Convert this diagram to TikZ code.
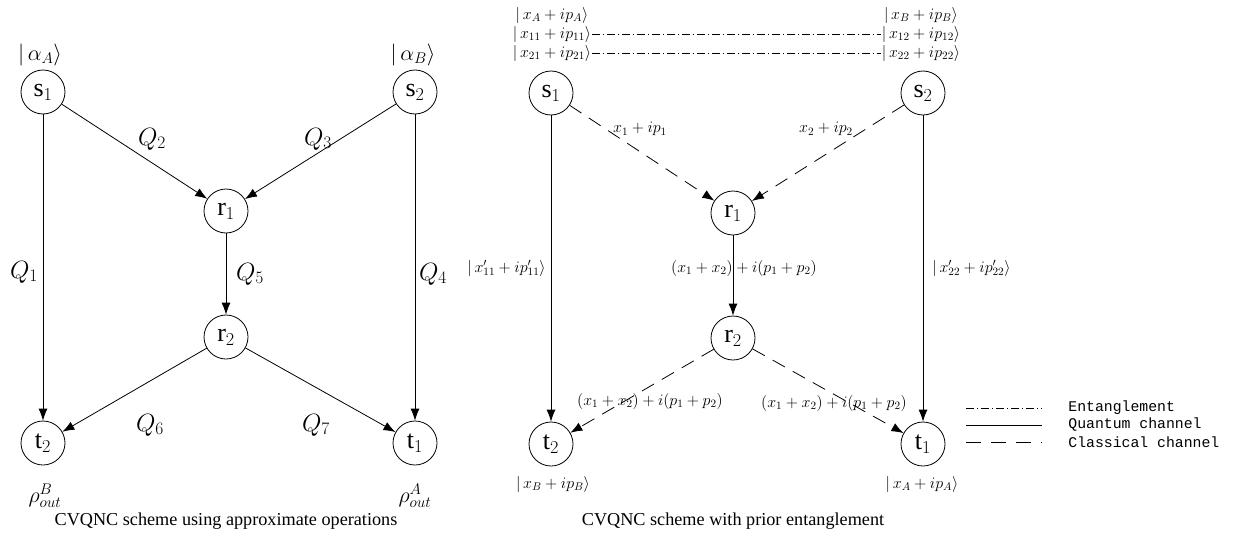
\RequirePackage{fix-cm}
\documentclass[tikz,border=0pt]{standalone}
\usepackage{fontspec}
\setmainfont{Liberation Serif}
\setmonofont{Liberation Mono}
\usetikzlibrary{arrows.meta}
\begin{document}
\begin{tikzpicture}[x=1pt,y=-1pt,line width=0.8pt,
  vert/.style={circle,draw,minimum size=44pt,inner sep=0pt,font=\fontsize{26}{28}\selectfont},
  arr/.style={-{Latex[length=12pt,width=9pt]}},
  cls/.style={arr,dash pattern=on 14pt off 9pt},
  ent/.style={dash pattern=on 8pt off 3pt on 1pt off 3pt},
  ql/.style={font=\fontsize{25}{28}\selectfont,inner sep=1pt},
  kl/.style={font=\fontsize{22}{26}\selectfont,inner sep=1pt},
  sl/.style={font=\fontsize{16}{19}\selectfont,inner sep=1pt},
  capt/.style={font=\fontsize{18.2}{21}\selectfont},
  lg/.style={font=\fontsize{14.8}{17}\ttfamily,anchor=west,inner sep=0pt}]
\useasboundingbox (0,0) rectangle (1236,546);

% ---------- left diagram ----------
\node[vert] (s1) at (43,92) {s$_1$};
\node[vert] (s2) at (415,92) {s$_2$};
\node[vert] (r1) at (226,211) {r$_1$};
\node[vert] (r2) at (226,337) {r$_2$};
\node[vert] (t2) at (43,443) {t$_2$};
\node[vert] (t1) at (415,443) {t$_1$};

\node[kl] (ka) at (40,55) {$|\,\alpha_{A}\rangle$};
\node[kl] (kb) at (413,55) {$|\,\alpha_{B}\rangle$};

\draw[arr] (s1) -- (r1);
\draw[arr] (s2) -- (r1);
\draw[arr] (s1) -- (t2);
\draw[arr] (s2) -- (t1);
\draw[arr] (r1) -- (r2);
\draw[arr] (r2) -- (t2);
\draw[arr] (r2) -- (t1);

\node[ql] (q2) at (152,139) {$Q_2$};
\node[ql] (q3) at (318,139) {$Q_3$};
\node[ql] (q1) at (24,272) {$Q_1$};
\node[ql] (q5) at (250,274) {$Q_5$};
\node[ql] (q4) at (433,274) {$Q_4$};
\node[ql] (q6) at (150,425) {$Q_6$};
\node[ql] (q7) at (316,425) {$Q_7$};

\node[kl] (rb) at (45,496) {$\rho^{B}_{out}$};
\node[kl] (ra) at (415,496) {$\rho^{A}_{out}$};

\node[capt] (c1) at (226,521) {CVQNC scheme using approximate operations};

% ---------- right diagram ----------
\node[vert] (S1) at (551,93) {s$_1$};
\node[vert] (S2) at (923,93) {s$_2$};
\node[vert] (R1) at (733,213) {r$_1$};
\node[vert] (R2) at (733,338) {r$_2$};
\node[vert] (T2) at (551,444) {t$_2$};
\node[vert] (T1) at (923,444) {t$_1$};

\node[sl] (xa) at (552,15) {$|\,x_{A}+ip_{A}\rangle$};
\node[sl] (xb) at (921,15) {$|\,x_{B}+ip_{B}\rangle$};
\node[sl] (x11) at (552,34) {$|\,x_{11}+ip_{11}\rangle$};
\node[sl] (x12) at (921,34) {$|\,x_{12}+ip_{12}\rangle$};
\node[sl] (x21) at (552,53) {$|\,x_{21}+ip_{21}\rangle$};
\node[sl] (x22) at (921,53) {$|\,x_{22}+ip_{22}\rangle$};
\draw[ent] (x11.east) -- (x12.west);
\draw[ent] (x21.east) -- (x22.west);

\draw[cls] (S1) -- (R1);
\draw[cls] (S2) -- (R1);
\draw[arr] (S1) -- (T2);
\draw[arr] (S2) -- (T1);
\draw[arr] (R1) -- (R2);
\draw[cls] (R2) -- (T2);
\draw[cls] (R2) -- (T1);

\node[sl] (e1) at (640,129) {$x_1+ip_1$};
\node[sl] (e2) at (826,129) {$x_2+ip_2$};
\node[sl,anchor=east] (e3) at (547,268) {$|\,x'_{11}+ip'_{11}\rangle$};
\node[sl] (e4) at (744,268) {$(x_1+x_2)+i(p_1+p_2)$};
\node[sl,anchor=west] (e5) at (931,268) {$|\,x'_{22}+ip'_{22}\rangle$};
\node[sl] (e6) at (650,401) {$(x_1+x_2)+i(p_1+p_2)$};
\node[sl] (e7) at (834,403) {$(x_1+x_2)+i(p_1+p_2)$};
\node[sl] (xbo) at (553,484) {$|\,x_{B}+ip_{B}\rangle$};
\node[sl] (xao) at (922,484) {$|\,x_{A}+ip_{A}\rangle$};

\node[capt] (c2) at (733,521) {CVQNC scheme with prior entanglement};

% ---------- legend ----------
\coordinate (la1) at (966,408);
\coordinate (lb1) at (1042,408);
\coordinate (la2) at (966,425);
\coordinate (lb2) at (1042,425);
\coordinate (la3) at (966,442);
\coordinate (lb3) at (1042,442);
\draw[ent] (la1) -- (lb1);
\draw (la2) -- (lb2);
\draw[dash pattern=on 15pt off 10pt] (la3) -- (lb3);
\node[lg] (g1) at (1068,408) {Entanglement};
\node[lg] (g2) at (1068,425) {Quantum channel};
\node[lg] (g3) at (1068,442) {Classical channel};
\end{tikzpicture}
\end{document}
